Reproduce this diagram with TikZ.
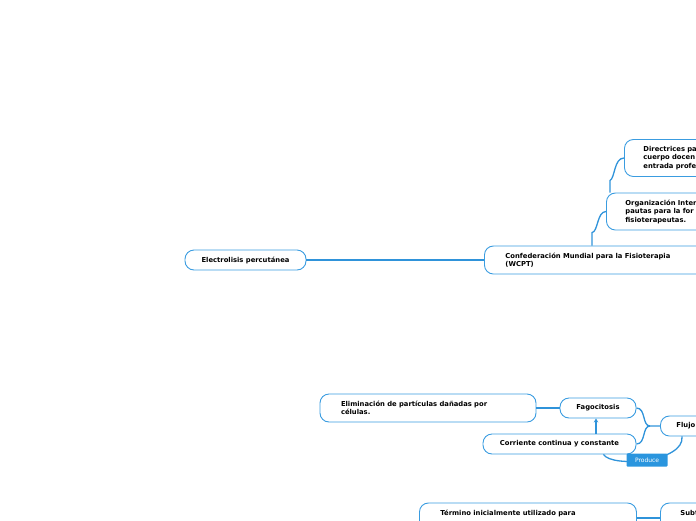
\documentclass[tikz,border=0pt]{standalone}
\usepackage{fontspec}
\setmainfont{DejaVu Sans}
\usetikzlibrary{arrows.meta, positioning}
\definecolor{cblue}{HTML}{3A9CE0}
\definecolor{cline}{HTML}{2F93DA}
\definecolor{clabel}{HTML}{2A95DE}
\tikzset{
  every picture/.style={font=\fontsize{6.8}{8.5}\selectfont\bfseries},
  topic/.style={draw=cblue, line width=0.9pt, rounded corners=9pt, inner sep=0pt, align=center, minimum height=20pt},
  leaf/.style={topic, align=left, anchor=west, text width=#1},
  leaf/.default=200pt,
  link/.style={draw=cline, line width=1.3pt},
  tag/.style={fill=clabel, text=white, rounded corners=1pt, minimum width=41pt, minimum height=13pt, inner sep=0pt, font=\fontsize{6}{7}\selectfont\mdseries},
}
\begin{document}
\begin{tikzpicture}[x=1pt, y=-1pt]
\useasboundingbox (0,0) rectangle (696,520);
\clip (0,0) rectangle (696,520);
% upper branch
\node[topic, minimum width=121pt] (elec) at (245.5,260) {Electrolisis percutánea};
\node[leaf, inner xsep=21pt, minimum height=28pt] (wcpt) at (484,260) {Confederación Mundial para la Fisioterapia\\(WCPT)};
\node[leaf=120pt, inner xsep=19pt, minimum height=37pt] (org) at (606,211.5) {Organización Inter\\pautas para la for\\fisioterapeutas.};
\node[leaf=120pt, inner xsep=19pt, minimum height=37pt] (dirs) at (624,158) {Directrices pa\\cuerpo docen\\entrada profe};
\draw[link, line width=2.4pt] (elec.east) -- (wcpt.west);
\draw[link] ([xshift=108pt]wcpt.north west) -- ++(0,-13) .. controls (598,232) and (597,211.5) .. (org.west);
\draw[link] ([xshift=4pt]org.north west) -- ++(0,-12) .. controls (615,178) and (614,158) .. (dirs.west);
% lower branch
\node[topic, align=left, minimum width=216pt, minimum height=28pt, text width=174pt] (elim) at (428,408) {Eliminación de partículas dañadas por\\células.};
\node[topic, minimum width=76pt] (fago) at (598,408) {Fagocitosis};
\node[topic, minimum width=153pt] (corr) at (559.5,444) {Corriente continua y constante};
\node[leaf=60pt, inner xsep=16pt] (flujo) at (660,426) {Flujo};
\draw[link] (elim.east) -- (fago.west);
\draw[link] (fago.east) .. controls (646,408) and (642,426) .. (650,426) -- (flujo.west);
\draw[link] (corr.east) .. controls (646,444) and (642,426) .. (650,426);
\draw[link, -{Stealth[length=4pt, width=4.5pt]}] ([xshift=-2pt]fago.south |- corr.north) -- ([xshift=-2pt]fago.south);
\draw[link] ([xshift=-33pt]corr.south east) .. controls (612,468) and (685,462) .. ([xshift=22pt]flujo.south west) node[tag, pos=0.5] (prod) {Produce};
% bottom
\node[leaf=175pt, inner xsep=21pt, minimum height=30pt, text height=5pt, text depth=10pt] (term) at (419,518) {Término inicialmente utilizado para};
\node[leaf=60pt, inner xsep=20pt, minimum height=30pt, text height=5pt, text depth=10pt] (subt) at (660,518) {Subt};
\draw[link] (term.east) -- (subt.west);
\end{tikzpicture}
\end{document}
